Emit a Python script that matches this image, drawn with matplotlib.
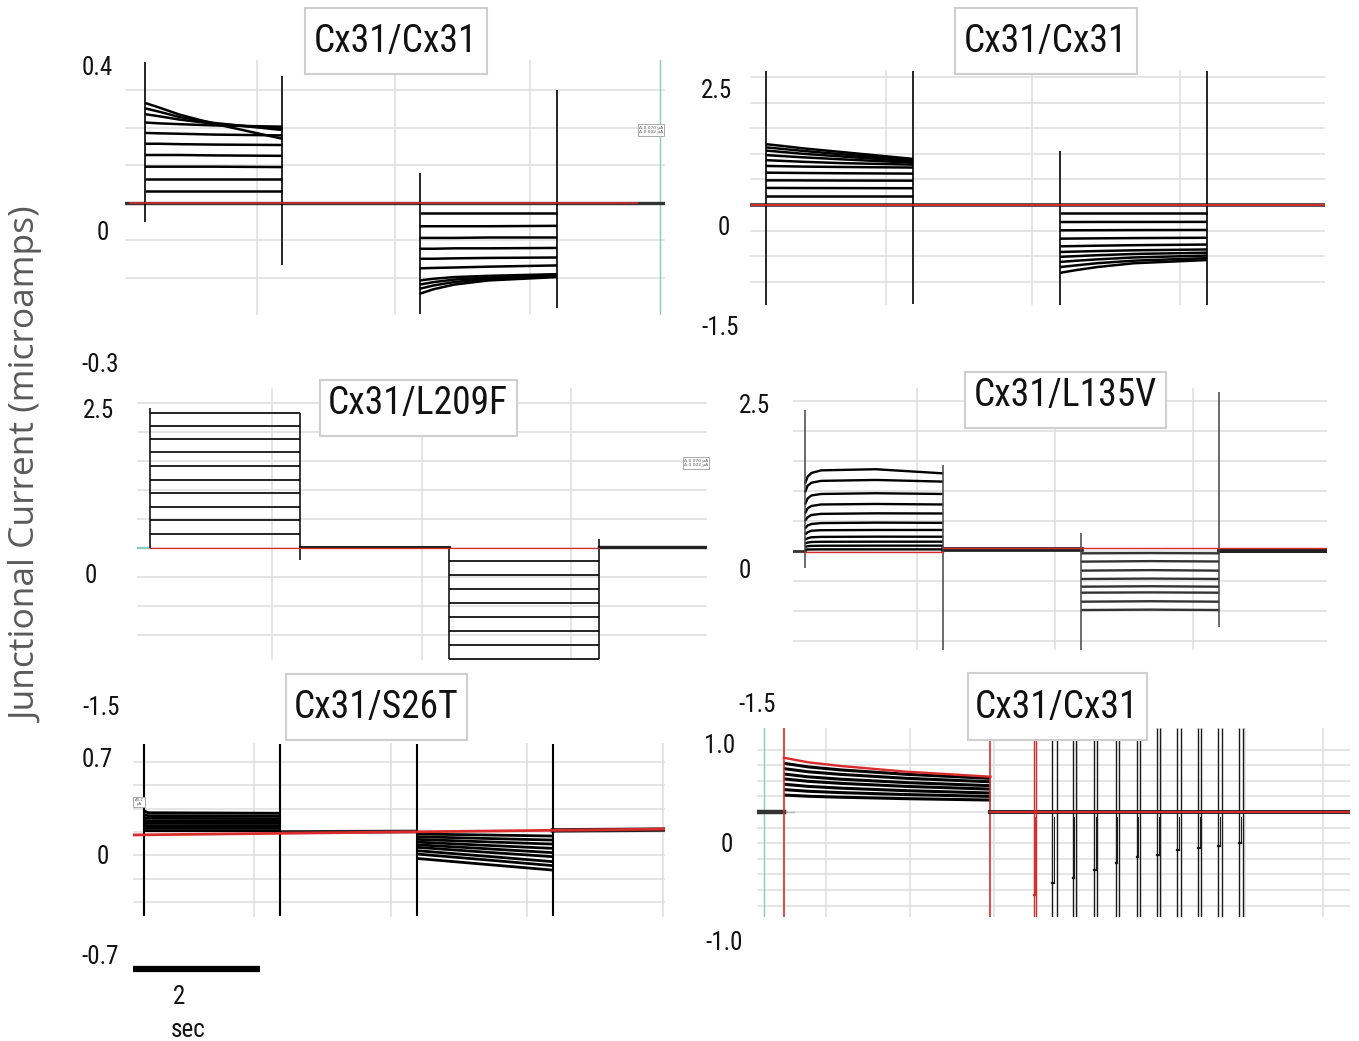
import matplotlib
matplotlib.use("Agg")
import matplotlib.pyplot as plt
from matplotlib import font_manager as fm
from matplotlib.patches import Rectangle

# ---------------- data (currents in microamps, time in s) ----------------
step_edges = [0.30, 2.45, 4.60, 6.75]          # Vj pulse on/off times

titles = ["Cx31/Cx31", "Cx31/Cx31", "Cx31/L209F", "Cx31/L135V", "Cx31/S26T", "Cx31/Cx31"]
ylabels_txt = [["0.4", "0", "-0.3"], ["2.5", "0", "-1.5"], ["2.5", "0", "-1.5"],
               ["2.5", "0", "-1.5"], ["0.7", "0", "-0.7"], ["1.0", "0", "-1.0"]]

# Panel 1 : Cx31/Cx31
p1_pos_t = [0.30, 0.52, 0.84, 1.38, 2.45]
p1_pos_i = [[0.028, 0.028, 0.028, 0.028, 0.028],
            [0.057, 0.057, 0.057, 0.057, 0.057],
            [0.087, 0.087, 0.087, 0.087, 0.086],
            [0.115, 0.115, 0.115, 0.114, 0.113],
            [0.142, 0.142, 0.141, 0.140, 0.139],
            [0.168, 0.167, 0.166, 0.164, 0.162],
            [0.193, 0.191, 0.189, 0.186, 0.183],
            [0.213, 0.208, 0.200, 0.190, 0.178],
            [0.227, 0.219, 0.206, 0.192, 0.175],
            [0.240, 0.229, 0.212, 0.190, 0.154]]
p1_neg_t = [4.60, 4.82, 5.14, 5.68, 6.75]
p1_neg_i = [[-0.025, -0.025, -0.025, -0.025, -0.025],
            [-0.056, -0.056, -0.056, -0.056, -0.055],
            [-0.084, -0.084, -0.084, -0.083, -0.083],
            [-0.110, -0.110, -0.109, -0.109, -0.108],
            [-0.134, -0.134, -0.133, -0.132, -0.131],
            [-0.157, -0.156, -0.155, -0.153, -0.150],
            [-0.186, -0.182, -0.178, -0.175, -0.171],
            [-0.196, -0.190, -0.184, -0.179, -0.174],
            [-0.206, -0.198, -0.190, -0.182, -0.176],
            [-0.218, -0.207, -0.196, -0.186, -0.178]]
p1_spike_hi = [0.338, 0.305, 0.071, 0.272]
p1_spike_lo = [-0.045, -0.150, -0.267, -0.252]

# Panel 2 : Cx31/Cx31
p2_pos_t = [0.30, 0.52, 0.84, 1.38, 2.45]
p2_pos_i = [[0.135, 0.135, 0.135, 0.135, 0.135],
            [0.266, 0.266, 0.265, 0.264, 0.262],
            [0.385, 0.385, 0.384, 0.382, 0.380],
            [0.505, 0.503, 0.500, 0.496, 0.490],
            [0.610, 0.606, 0.600, 0.594, 0.585],
            [0.700, 0.690, 0.675, 0.655, 0.630],
            [0.780, 0.765, 0.745, 0.715, 0.660],
            [0.850, 0.830, 0.800, 0.760, 0.680],
            [0.900, 0.878, 0.845, 0.795, 0.700],
            [0.950, 0.925, 0.885, 0.830, 0.720]]
p2_neg_t = [4.60, 4.82, 5.14, 5.68, 6.75]
p2_neg_i = [[-0.125, -0.125, -0.125, -0.125, -0.125],
            [-0.266, -0.266, -0.265, -0.265, -0.264],
            [-0.396, -0.395, -0.394, -0.392, -0.390],
            [-0.526, -0.524, -0.521, -0.517, -0.512],
            [-0.646, -0.642, -0.636, -0.628, -0.618],
            [-0.734, -0.728, -0.720, -0.708, -0.695],
            [-0.810, -0.800, -0.785, -0.765, -0.745],
            [-0.890, -0.872, -0.850, -0.820, -0.790],
            [-0.970, -0.945, -0.910, -0.870, -0.830],
            [-1.060, -1.020, -0.970, -0.910, -0.860]]
p2_spike_hi = [2.10, 2.10, 0.85, 2.10]
p2_spike_lo = [-1.56, -1.54, -1.56, -1.56]

# Panel 3 : Cx31/L209F (no junctional gating)
p3_pos_t = [0.30, 2.45]
p3_pos_levels = [0.19, 0.38, 0.57, 0.76, 0.94, 1.13, 1.32, 1.50, 1.68, 1.86]
p3_neg_t = [4.60, 6.75]
p3_neg_levels = [-0.175, -0.377, -0.566, -0.759, -0.956, -1.149, -1.342, -1.531]
p3_spike_hi = [1.93, 1.86, 0.00, 0.124]
p3_spike_lo = [0.00, -0.165, -1.531, -1.531]

# Panel 4 : Cx31/L135V
p4_pos_t = [0.30, 0.34, 0.40, 0.55, 1.40, 2.45]
p4_pos_i = [[0.900, 0.990, 1.040, 1.075, 1.090, 1.035],
            [0.780, 0.870, 0.910, 0.935, 0.947, 0.925],
            [0.620, 0.700, 0.740, 0.760, 0.770, 0.760],
            [0.500, 0.570, 0.600, 0.620, 0.627, 0.620],
            [0.400, 0.450, 0.480, 0.495, 0.502, 0.500],
            [0.300, 0.340, 0.360, 0.372, 0.378, 0.375],
            [0.220, 0.250, 0.270, 0.277, 0.280, 0.280],
            [0.150, 0.170, 0.183, 0.188, 0.191, 0.190],
            [0.100, 0.112, 0.120, 0.123, 0.124, 0.124],
            [0.055, 0.064, 0.068, 0.070, 0.071, 0.071],
            [0.018, 0.020, 0.021, 0.022, 0.022, 0.022]]
p4_neg_t = [4.60, 5.68, 6.75]
p4_neg_i = [[-0.031, -0.028, -0.031],
            [-0.142, -0.135, -0.140],
            [-0.262, -0.255, -0.262],
            [-0.373, -0.368, -0.373],
            [-0.476, -0.470, -0.476],
            [-0.556, -0.552, -0.556],
            [-0.676, -0.670, -0.676],
            [-0.787, -0.782, -0.787]]
p4_spike_hi = [1.88, 1.147, 0.24, 2.12]
p4_spike_lo = [-0.227, -1.32, -1.32, -1.01]

# Panel 5 : Cx31/S26T
p5_pos_t = [0.30, 0.36, 2.45]
p5_pos_i = [[0.012, 0.010, 0.010],
            [0.030, 0.028, 0.028],
            [0.050, 0.047, 0.046],
            [0.070, 0.065, 0.064],
            [0.088, 0.082, 0.081],
            [0.110, 0.102, 0.100],
            [0.132, 0.122, 0.120],
            [0.160, 0.144, 0.140]]
p5_neg_t = [4.60, 5.68, 6.75]
p5_neg_i = [[-0.015, -0.022, -0.030],
            [-0.035, -0.048, -0.060],
            [-0.055, -0.073, -0.090],
            [-0.075, -0.099, -0.122],
            [-0.095, -0.124, -0.154],
            [-0.114, -0.150, -0.184],
            [-0.139, -0.180, -0.221],
            [-0.164, -0.207, -0.251],
            [-0.197, -0.241, -0.284]]
p5_spike_hi = [0.66, 0.66, 0.66, 0.66]
p5_spike_lo = [-0.63, -0.63, -0.63, -0.63]
p5_red_t = [0.127, 8.52]
p5_red_i = [-0.022, 0.022]
scale_bar_s = 2.0

# Panel 6 : Cx31/Cx31 long pulse followed by test pulses
p6_step_on, p6_step_off = 0.42, 3.65
p6_step_t = [0.42, 0.80, 1.31, 2.33, 3.65]
p6_red_i = [0.557, 0.510, 0.472, 0.414, 0.362]
p6_step_i = [[0.500, 0.463, 0.432, 0.387, 0.345],
             [0.445, 0.413, 0.386, 0.346, 0.310],
             [0.390, 0.361, 0.337, 0.302, 0.270],
             [0.340, 0.315, 0.294, 0.263, 0.235],
             [0.285, 0.263, 0.245, 0.219, 0.195],
             [0.230, 0.213, 0.199, 0.179, 0.160],
             [0.174, 0.162, 0.152, 0.137, 0.123]]
p6_pulse_on = [4.325, 4.616, 4.934, 5.270, 5.610, 5.934, 6.250, 6.569, 6.894, 7.210, 7.536]
p6_pulse_off = [4.360, 4.684, 4.990, 5.320, 5.656, 5.980, 6.306, 6.625, 6.947, 7.266, 7.590]
p6_pulse_dip = [-0.851, -0.731, -0.680, -0.595, -0.526, -0.458, -0.441, -0.390, -0.372, -0.349, -0.321]

# ---------------- figure ----------------
W, H = 1359, 1041
fig = plt.figure(figsize=(W / 100, H / 100), dpi=100)
fig.patch.set_facecolor("white")

names = {f.name for f in fm.fontManager.ttflist}
TITLE_FONT = "Lato"
for cand in ["Liberation Sans Narrow", "Roboto Condensed", "Open Sans Condensed"]:
    if cand in names:
        TITLE_FONT = cand
        break
LABEL_FONT = "Open Sans" if "Open Sans" in names else "DejaVu Sans"

GRID = "#dedede"
RED = "#d92b2b"
TEAL = "#8cc7c2"


def make_axes(box, xlim, ylim, vgrid, hgrid):
    L, T, R, B = box
    ax = fig.add_axes([L / W, 1 - B / H, (R - L) / W, (B - T) / H])
    ax.set_xlim(*xlim)
    ax.set_ylim(*ylim)
    ax.set_xticks(vgrid)
    ax.set_yticks(hgrid)
    ax.grid(True, color=GRID, lw=1.1)
    ax.set_axisbelow(True)
    ax.tick_params(length=0, labelbottom=False, labelleft=False)
    for s in ax.spines.values():
        s.set_visible(False)
    ax.set_facecolor("none")
    return ax


def family(ax, t, rows, color="black", lw=1.8):
    for r in rows:
        ax.plot(t, r, color=color, lw=lw, solid_capstyle="butt")


def spikes(ax, hi, lo, color="black", lw=1.2):
    ax.vlines(step_edges, lo, hi, color=color, lw=lw)


def grid_range(a, b, step):
    out, v = [], a
    while v <= b + 1e-9:
        out.append(round(v, 4))
        v += step
    return out


# ---- Panel 1
ax1 = make_axes((125, 60, 665, 315), (-0.013, 8.44), (-0.269, 0.343),
                [2.05, 4.21, 6.33], [0.27, 0.18, 0.09, 0.0, -0.09, -0.18])
ax1.axvline(8.36, color=TEAL, lw=1.0)
ax1.plot([-0.013, 8.44], [0, 0], color="#333333", lw=2.4)
family(ax1, p1_pos_t, p1_pos_i)
family(ax1, p1_neg_t, p1_neg_i)
spikes(ax1, p1_spike_hi, p1_spike_lo)
ax1.plot([0.065, 8.0], [0, 0], color=RED, lw=1.2)

# ---- Panel 2
ax2 = make_axes((750, 70, 1325, 305), (0.066, 8.476), (-1.5625, 2.109),
                [2.05, 4.19, 6.36], grid_range(-1.2, 2.0, 0.4))
ax2.plot([0.066, 8.476], [0, 0], color="#333333", lw=2.6)
family(ax2, p2_pos_t, p2_pos_i)
family(ax2, p2_neg_t, p2_neg_i)
spikes(ax2, p2_spike_hi, p2_spike_lo)
ax2.plot([0.066, 8.476], [0, 0], color=RED, lw=1.4)

# ---- Panel 3
ax3 = make_axes((137, 388, 707, 660), (0.113, 8.30), (-1.545, 2.207),
                [2.05, 4.21, 6.35], grid_range(-1.2, 2.0, 0.4))
ax3.plot([0.113, 0.30], [0, 0], color=TEAL, lw=1.6)
ax3.plot([2.45, 4.60], [0.01, 0.01], color="#222222", lw=2.2)
ax3.plot([6.75, 8.30], [0.02, 0.02], color="#222222", lw=2.4)
family(ax3, p3_pos_t, [[v, v] for v in p3_pos_levels], lw=1.2)
family(ax3, p3_neg_t, [[v, v] for v in p3_neg_levels], lw=1.2)
spikes(ax3, p3_spike_hi, p3_spike_lo, lw=1.1)
ax3.plot([0.30, 6.75], [0, 0], color=RED, lw=0.9)

# ---- Panel 4
ax4 = make_axes((793, 388, 1327, 650), (0.113, 8.43), (-1.32, 2.173),
                [2.045, 4.19, 6.34], grid_range(-1.2, 2.0, 0.4))
ax4.plot([0.113, 0.30], [0, 0], color="#333333", lw=2.0)
ax4.plot([2.45, 4.60], [0.03, 0.03], color="#222222", lw=3.4)
ax4.plot([6.75, 8.43], [0.01, 0.01], color="#222222", lw=3.6)
family(ax4, p4_pos_t, p4_pos_i, lw=1.7)
family(ax4, p4_neg_t, p4_neg_i, color="#333333", lw=1.7)
spikes(ax4, p4_spike_hi, p4_spike_lo, color="#444444", lw=1.1)
ax4.plot([0.30, 2.45], [-0.01, -0.01], color=RED, lw=1.0)
ax4.plot([2.45, 8.43], [0.04, 0.04], color=RED, lw=1.0)

# ---- Panel 5
ax5 = make_axes((133, 743, 665, 917), (0.127, 8.52), (-0.634, 0.664),
                [2.035, 4.196, 6.34, 8.49], [0.525, 0.35, 0.175, 0.0, -0.175, -0.35, -0.525])
ax5.plot([2.45, 4.60], [0.0, 0.004], color="#222222", lw=2.6)
ax5.plot([6.75, 8.52], [0.012, 0.018], color="#222222", lw=3.2)
family(ax5, p5_pos_t, p5_pos_i, lw=2.0)
family(ax5, p5_neg_t, p5_neg_i, lw=2.0)
spikes(ax5, p5_spike_hi, p5_spike_lo, lw=1.5)
ax5.plot(p5_red_t, p5_red_i, color=RED, lw=2.0)
ax5.plot([0.127, 0.127 + scale_bar_s], [-1.022, -1.022], color="black", lw=4.5,
         solid_capstyle="butt", clip_on=False)

# ---- Panel 6
ax6 = make_axes((757, 728, 1350, 917), (0.0, 9.27), (-1.077, 0.862),
                [1.08, 2.39, 3.70, 5.01, 6.32, 7.63, 8.85],
                [0.64, 0.48, 0.32, 0.16, 0.0, -0.16, -0.32, -0.48, -0.64, -0.80, -0.96])
ax6.axvline(0.116, color=TEAL, lw=1.0)
ax6.plot([0.42, 0.575], [0, 0], color="#bbbbbb", lw=1.0)
ax6.plot([0.0, 0.42], [0, 0], color="#333333", lw=3.2)
family(ax6, p6_step_t, p6_step_i, lw=2.2)
ax6.plot(p6_step_t, p6_red_i, color=RED, lw=1.7)
ax6.axvline(p6_step_on, color=RED, lw=1.2)
ax6.axvline(p6_step_off, color=RED, lw=1.2)
ax6.plot([p6_step_off, 9.27], [0, 0], color="#222222", lw=2.8)
for k, (a, b, d) in enumerate(zip(p6_pulse_on, p6_pulse_off, p6_pulse_dip)):
    c = RED if k == 0 else "#1a1a1a"
    ax6.vlines([a, b], -1.077, 0.862, color=c, lw=1.0)
    m = (a + b) / 2
    ax6.plot([a, m], [d, d], color=c, lw=1.6)
    ax6.plot([m, m], [d, -0.05], color=c, lw=0.7)
ax6.plot([p6_step_off, 9.27], [0.004, 0.004], color=RED, lw=1.4)

# ---------------- texts & boxes ----------------
title_boxes = [(305, 8, 487, 74), (955, 8, 1137, 74), (320, 380, 517, 436),
               (965, 372, 1166, 428), (286, 674, 467, 740), (968, 673, 1147, 740)]
title_centers = [(396, 42), (1046, 42), (418, 404), (1065, 396), (376, 707), (1057, 707)]
for (L, T, R, B), (cx, cy), t in zip(title_boxes, title_centers, titles):
    fig.add_artist(Rectangle((L / W, 1 - B / H), (R - L) / W, (B - T) / H,
                             transform=fig.transFigure, facecolor="white",
                             edgecolor="#cfcfcf", lw=1.5, zorder=5))
    fig.text(cx / W, 1 - cy / H, t, ha="center", va="center", fontsize=27,
             family=TITLE_FONT, color="#111111", zorder=6)

ylabel_pos = [[(97, 68), (103, 233), (100, 365)],
              [(717, 91), (724, 228), (720, 328)],
              [(99, 411), (91, 576), (101, 708)],
              [(755, 406), (745, 571), (757, 705)],
              [(97, 760), (103, 857), (100, 957)],
              [(720, 746), (727, 845), (724, 943)]]
for labs, poss in zip(ylabels_txt, ylabel_pos):
    for s, (x, y) in zip(labs, poss):
        fig.text(x / W, 1 - y / H, s, ha="center", va="center", fontsize=18,
                 family=TITLE_FONT, color="#111111", zorder=6)

# small cursor readout boxes
for (x, y) in [(651, 130), (696, 463)]:
    fig.text(x / W, 1 - y / H, "Δ-0.070 μA\nΔ-0.002 μA", ha="center", va="center",
             fontsize=3.2, color="#555555", zorder=6,
             bbox=dict(boxstyle="square,pad=0.3", fc="white", ec="#aaaaaa", lw=0.7))
fig.text(139 / W, 1 - 802 / H, "Δ0.2\nμA", ha="center", va="center", fontsize=2.8,
         color="#555555", zorder=6,
         bbox=dict(boxstyle="square,pad=0.3", fc="white", ec="#aaaaaa", lw=0.7))

fig.text(179 / W, 1 - 997 / H, "2", ha="center", va="center", fontsize=18,
         family=TITLE_FONT, color="#111111")
fig.text(188 / W, 1 - 1030 / H, "sec", ha="center", va="center", fontsize=18,
         family=TITLE_FONT, color="#111111")

fig.text(28 / W, 1 - 465 / H, "Junctional Current (microamps)", rotation=90,
         ha="center", va="center", fontsize=25.5, family=LABEL_FONT, color="#5a5a5a")

fig.savefig("out.png", dpi=100, facecolor="white")
